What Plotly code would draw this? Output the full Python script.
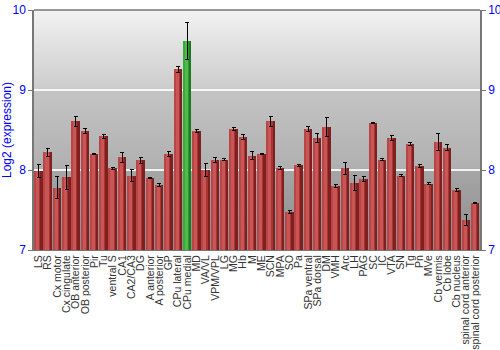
import plotly.graph_objects as go

categories = ["LS", "RS", "Cx motor", "Cx cingulate", "OB anterior", "OB posterior", "Pir", "Tu",
              "ventral S", "CA1", "CA2/CA3", "DG", "A anterior", "A posterior", "GP", "CPu lateral",
              "CPu medial", "MD", "VA/VL", "VPM/VPL", "LG", "MG", "Hb", "M", "ME", "SCN", "MPA", "SO",
              "Pa", "SPa ventral", "SPa dorsal", "DM", "VMH", "Arc", "LH", "PAG", "SC", "IC", "VTA",
              "SN", "Tg", "Pn", "MVe", "Cb vermis", "Cb lobe", "Cb nucleus", "spinal cord anterior",
              "spinal cord posterior"]
values = [7.99, 8.22, 7.78, 7.91, 8.61, 8.49, 8.20, 8.42,
          8.02, 8.16, 7.93, 8.12, 7.90, 7.81, 8.20, 9.26,
          9.61, 8.49, 8.00, 8.13, 8.13, 8.51, 8.41, 8.18, 8.20, 8.61, 8.03, 7.48,
          8.06, 8.51, 8.40, 8.54, 7.80, 8.02, 7.84, 7.89, 8.59, 8.13, 8.40,
          7.93, 8.33, 8.05, 7.83, 8.35, 8.28, 7.75, 7.38, 7.59]
errors = [0.08, 0.05, 0.14, 0.15, 0.06, 0.03, 0.01, 0.03,
          0.01, 0.06, 0.075, 0.04, 0.01, 0.02, 0.03, 0.04,
          0.23, 0.02, 0.08, 0.03, 0.01, 0.02, 0.03, 0.05, 0.01, 0.06, 0.02, 0.02,
          0.01, 0.03, 0.06, 0.12, 0.02, 0.07, 0.09, 0.035, 0.01, 0.01, 0.03,
          0.01, 0.02, 0.02, 0.01, 0.11, 0.04, 0.02, 0.07, 0.01]
highlight = "CPu medial"
y_ticks = [7, 8, 9, 10]

def col(red, green):
    return [green if c_ == highlight else red for c_ in categories]

base_cols = col("#a83434", "#2e9a2e")
light_cols = col("#c95555", "#4cbc4c")
dark_cols = col("#7e2020", "#1f7a1f")
edge_cols = col("#b84646", "#3aaa3a")

fig = go.Figure()
fig.add_trace(go.Bar(x=categories, y=values, width=0.86, offset=-0.43,
                     marker=dict(color=base_cols, line=dict(width=0))))
fig.add_trace(go.Bar(x=categories, y=values, width=0.36, offset=-0.3,
                     marker=dict(color=light_cols, line=dict(width=0))))
fig.add_trace(go.Bar(x=categories, y=values, width=0.14, offset=-0.43,
                     marker=dict(color=edge_cols, line=dict(width=0))))
fig.add_trace(go.Bar(x=categories, y=values, width=0.2, offset=0.23,
                     marker=dict(color=dark_cols, line=dict(width=0))))
fig.add_trace(go.Bar(x=categories, y=values, width=0.86, offset=-0.43,
                     marker=dict(color="rgba(0,0,0,0)", line=dict(width=0)),
                     error_y=dict(type="data", array=errors, color="black", thickness=1, width=2)))

# background gradient (decorative stripes)
stops = [(0.0, (0x8c, 0x8c, 0x8c)), (0.333, (0xa6, 0xa6, 0xa6)), (0.34, (0xb0, 0xb0, 0xb0)),
         (0.666, (0xc4, 0xc4, 0xc4)), (0.67, (0xcc, 0xcc, 0xcc)), (1.0, (0xf2, 0xf2, 0xf2))]
def interp(t):
    for (t0, c0), (t1, c1) in zip(stops[:-1], stops[1:]):
        if t0 <= t <= t1:
            f = (t - t0) / (t1 - t0) if t1 > t0 else 0
            return tuple(int(round(a + (b - a) * f)) for a, b in zip(c0, c1))
    return stops[-1][1]
N = 120
shapes = []
for k in range(N):
    t = (k + 0.5) / N
    r, g, b = interp(t)
    shapes.append(dict(type="rect", xref="paper", yref="paper", x0=0, x1=1,
                       y0=k / N, y1=(k + 1) / N + 0.002, layer="below",
                       line=dict(width=0), fillcolor=f"rgb({r},{g},{b})"))

axis_common = dict(range=[7, 10], tickvals=y_ticks, tickfont=dict(color="#0000ff", size=12,
                   family="Liberation Sans, Arial"), ticks="outside", ticklen=4, tickcolor="#777",
                   showline=True, linecolor="#777", linewidth=1.5, automargin=False)
fig.update_layout(
    width=500, height=350, margin=dict(l=34, r=20, t=10, b=100),
    barmode="overlay", showlegend=False, bargap=0,
    paper_bgcolor="white", plot_bgcolor="rgba(0,0,0,0)",
    shapes=shapes,
    xaxis=dict(type="category", tickangle=-90, tickmode="array", tickvals=categories,
               ticktext=categories, tickfont=dict(size=10.5, color="#333",
               family="Liberation Sans, Arial"), ticks="", showgrid=False, automargin=False,
               showline=True, linecolor="#777", mirror=False, range=[-0.5, len(categories) - 0.5]),
    yaxis=dict(**axis_common, showgrid=True, gridcolor="rgba(255,255,255,0.85)", gridwidth=2,
               title=dict(text="Log2 (expression)", font=dict(color="#0000ff", size=12,
                          family="Liberation Sans, Arial"), standoff=6), zeroline=False),
    yaxis2=dict(**axis_common, overlaying="y", side="right", showgrid=False, zeroline=False),
    font=dict(family="Liberation Sans, Arial"),
)
fig.add_trace(go.Scatter(x=[categories[0]], y=[7], yaxis="y2", mode="markers",
                         marker=dict(opacity=0), hoverinfo="skip"))
fig.add_shape(type="line", xref="paper", yref="paper", x0=0, x1=1, y0=1, y1=1,
              line=dict(color="#777", width=1.5), layer="above")
fig.write_html("out.html")
